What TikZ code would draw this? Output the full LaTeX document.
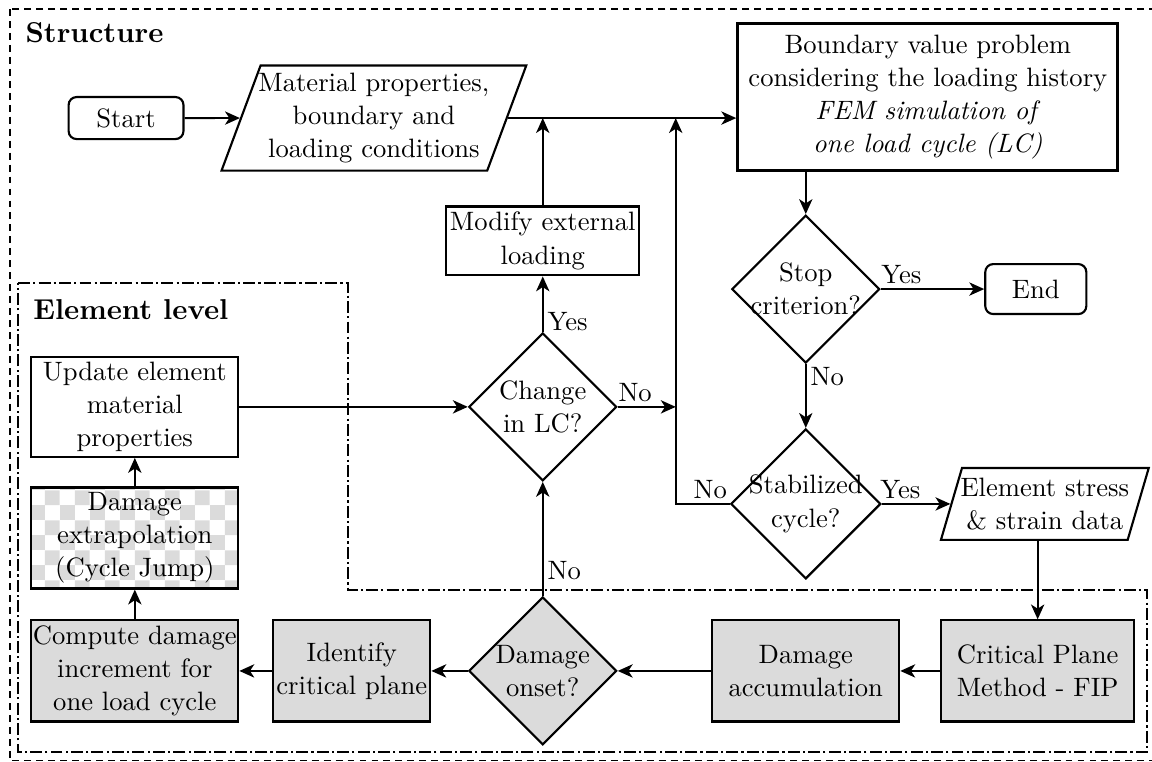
\documentclass[tikz,border=0pt]{standalone}
\usepackage{amsmath,amssymb}
\usepackage{tikz}
\usetikzlibrary{shapes.geometric,arrows.meta,patterns}

\begin{document}
\begin{tikzpicture}[
	font=\fontsize{10}{12.5}\selectfont,
	base/.style = {draw, thick, align=center, inner sep=1pt},
	term/.style = {base, rounded corners=3pt},
	proc/.style = {base, rectangle},
	io/.style = {base, trapezium, trapezium left angle=67, trapezium right angle=113, trapezium stretches=true, inner xsep=-1.5pt, inner ysep=0pt},
	dec/.style = {base, diamond, aspect=1, inner sep=-2pt, minimum size=55.6pt},
	shaded/.style = {fill=black!14},
	checker/.style = {pattern=checkerboard, pattern color=black!14},
	arr/.style = {line width=0.7pt, -{Stealth[length=5.6pt,width=5pt,inset=1.6pt]}},
	lbl/.style = {inner sep=1.5pt},
	head/.style = {anchor=west, font=\bfseries\fontsize{10.8}{13}\selectfont}
]
	\useasboundingbox (-47.4pt,44.4pt) rectangle (385.8pt,-241.8pt);

	% frames
	\draw[semithick, dash pattern=on 2.6pt off 1.9pt] (-43.6pt,41pt) rectangle (386.5pt,-241.6pt);
	\draw[thick, dash pattern=on 4.5pt off 1.2pt on 0.8pt off 1.2pt] (-40.6pt,-62pt) -- (83.5pt,-62pt) -- (83.5pt,-177.5pt) -- (383.9pt,-177.5pt) -- (383.9pt,-238.4pt) -- (-40.6pt,-238.4pt) -- cycle;
	\node[head] (structure) at (-41.3pt,32pt) {Structure};
	\node[head] (elemlevel) at (-38.4pt,-72.2pt) {Element level};

	% structure level
	\node[term, minimum width=43.2pt, minimum height=15.8pt] (start) {Start};
	\node[io, minimum width=114.7pt, minimum height=39.5pt] (mat) [right of=start, node distance=93.2pt] {Material properties,\\boundary and\\loading conditions};
	\node[proc, very thick, minimum width=142.9pt, minimum height=55.3pt] (bvp) [right of=mat, node distance=208.3pt, yshift=7.9pt] {Boundary value problem\\considering the loading history\\\textit{FEM simulation of}\\\textit{one load cycle (LC)}};
	\node[proc, minimum width=72.6pt, minimum height=25.9pt] (mod) [below of=mat, node distance=46.2pt, xshift=63.5pt] {Modify external\\loading};
	\node[dec] (chg) [below of=mod, node distance=62.4pt] {Change\\in LC?};
	\node[dec] (onset) [below of=chg, node distance=99.3pt, shaded] {Damage\\onset?};
	\node[proc, shaded, minimum width=59pt, minimum height=38pt] (ident) [left of=onset, node distance=71.8pt] {Identify\\critical plane};
	\node[proc, shaded, minimum width=77.8pt, minimum height=38pt, inner xsep=0pt] (comp) [left of=ident, node distance=81.6pt] {Compute damage\\increment for\\one load cycle};
	\node[proc, checker, minimum width=77.8pt, minimum height=38pt, inner ysep=0pt] (extra) [above of=comp, node distance=50pt] {Damage\\extrapolation\\(Cycle Jump)};
	\node[proc, minimum width=77.8pt, minimum height=37.6pt, inner ysep=0pt] (upd) [above of=extra, node distance=49.3pt] {Update element\\material\\properties};
	\node[proc, shaded, minimum width=70.3pt, minimum height=38pt] (acc) [right of=onset, node distance=98.9pt] {Damage\\accumulation};
	\node[proc, shaded, minimum width=72.6pt, minimum height=38pt] (cpm) [right of=acc, node distance=87.2pt] {Critical Plane\\Method - FIP};
	\node[dec] (stab) [above of=acc, node distance=62.8pt] {Stabilized\\cycle?};
	\node[dec] (stop) [above of=stab, node distance=80.8pt] {Stop\\criterion?};
	\node[term, minimum width=38pt, minimum height=18.8pt] (end) [right of=stop, node distance=86.5pt] {End};
	\node[io, trapezium left angle=68.7, trapezium right angle=111.3, minimum width=78.2pt, minimum height=27pt] (elem) [right of=stab, node distance=89.9pt] {Element stress\\\& strain data};
	\coordinate [left of=stab, node distance=48.9pt] (back);

	\draw[arr] (start) -- (mat);
	\draw[arr] (mat.east) -- (mat.east -| bvp.west);
	\draw[arr] (mod) -- (mod |- mat.east);
	\draw[arr] (bvp.south -| stop) -- (stop);
	\draw[arr] (stop) -- node[lbl, pos=0.2, above] {Yes} (end);
	\draw[arr] (stop) -- node[lbl, pos=0.2, right] {No} (stab);
	\draw[arr] (stab) -- node[lbl, pos=0.27, above] {Yes} (elem);
	\draw[arr] (stab.west) -- node[lbl, pos=0.36, above] {No} (back) -- (back |- mat.east);
	\draw[arr] (chg) -- node[lbl, pos=0.3, above] {No} (chg -| back);
	\draw[arr] (chg) -- node[lbl, pos=0.19, right] {Yes} (mod);
	\draw[arr] (upd) -- (chg);

	% element level
	\draw[arr] (elem.south -| cpm) -- (cpm);
	\draw[arr] (cpm) -- (acc);
	\draw[arr] (acc) -- (onset);
	\draw[arr] (onset) -- node[lbl, pos=0.22, right] {No} (chg);
	\draw[arr] (onset) -- (ident);
	\draw[arr] (ident) -- (comp);
	\draw[arr] (comp) -- (extra);
	\draw[arr] (extra) -- (upd);
\end{tikzpicture}
\end{document}
